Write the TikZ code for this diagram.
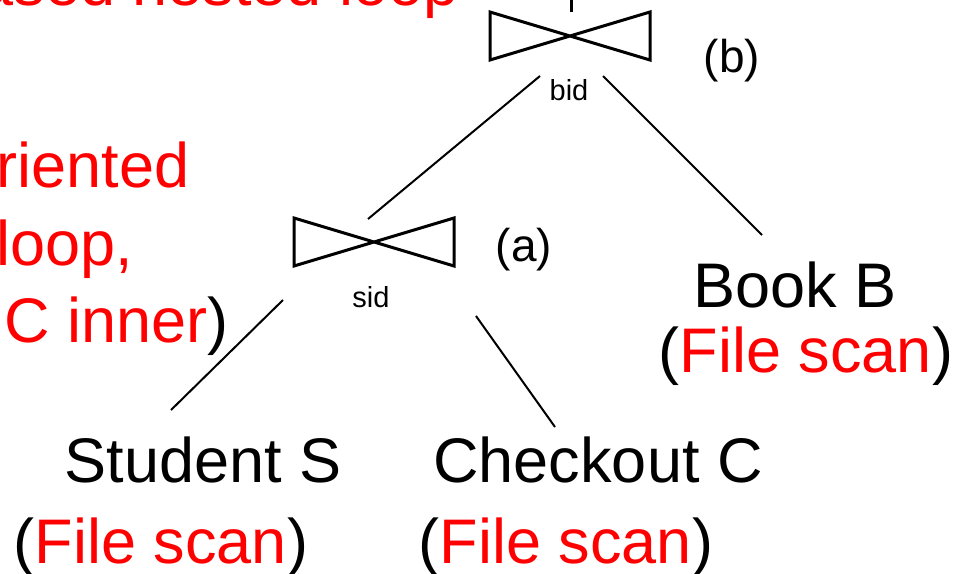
\documentclass[tikz,border=0pt]{standalone}
\usepackage{fontspec}
\setmainfont{Liberation Sans}
\definecolor{scanred}{RGB}{255,0,0}
\tikzset{joinop/.pic={\draw[line width=1.5pt,line join=miter] (-80,-24) -- (80,24) -- (80,-24) -- (-80,24) -- cycle;}}
\begin{document}
\begin{tikzpicture}[x=0.5pt,y=-0.5pt,
    lab/.style={inner sep=0pt,anchor=base,font=\fontsize{31.5}{38}\selectfont},
    attr/.style={inner sep=0pt,anchor=base,font=\fontsize{14.5}{17}\selectfont},
    numtag/.style={inner sep=0pt,font=\fontsize{23}{28}\selectfont},
    note/.style={inner sep=0pt,text=scanred,font=\fontsize{31.5}{38}\selectfont},
    treeline/.style={line width=1pt}]
    \useasboundingbox (0,0) rectangle (956,573);
    \node[note,anchor=base east] (topnote) at (459,5) {ased nested loop}; %testo tagliato
    \node[note,anchor=base east] (note1) at (190,187) {riented};
    \node[note,anchor=base west] (note2) at (-4,265) {loop,};
    \node[note,anchor=base west] (note3) at (4,342) {C inner\textcolor{black}{)}};
    \coordinate (joinB) at (570,36); %join (b)
    \pic at (joinB) {joinop};
    \node[attr] (bid) at (569,100) {bid};
    \node[numtag] (tagB) at (732,61) {(b)};
    \coordinate (joinA) at (374,242); %join (a)
    \pic at (joinA) {joinop};
    \node[attr] (sid) at (371,307) {sid};
    \node[numtag] (tagA) at (524,250) {(a)};
    \node[lab] (book) at (795,307) {Book B}; %foglie
    \node[lab] (bookscan) at (806,372) {(\textcolor{scanred}{File scan})};
    \node[lab] (stud) at (203,482) {Student S};
    \node[lab] (studscan) at (161,563) {(\textcolor{scanred}{File scan})};
    \node[lab] (check) at (598,482) {Checkout C};
    \node[lab] (checkscan) at (566,563) {(\textcolor{scanred}{File scan})};
    \coordinate (root) at (571,0);
    \coordinate (bTop) at (571,12);
    \coordinate (bL) at (540,76);
    \coordinate (bR) at (603,76);
    \coordinate (aT) at (368,219);
    \coordinate (bookT) at (762,235);
    \coordinate (aL) at (283,300);
    \coordinate (aR) at (476,316);
    \coordinate (studT) at (171,410);
    \coordinate (checkT) at (555,427);
    \draw[line width=1.5pt] (root) -- (bTop);
    \draw[treeline] (bL) -- (aT);
    \draw[treeline] (bR) -- (bookT);
    \draw[treeline] (aL) -- (studT);
    \draw[treeline] (aR) -- (checkT);
  \end{tikzpicture}
\end{document}
